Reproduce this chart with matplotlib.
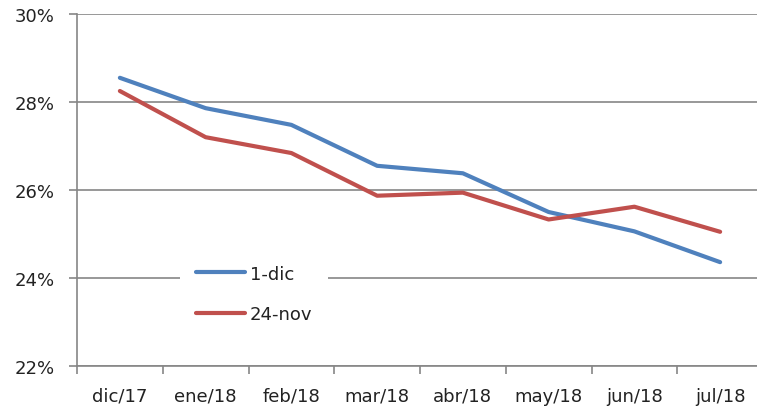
import matplotlib.pyplot as plt
import numpy as np

months = ["dic/17", "ene/18", "feb/18", "mar/18", "abr/18", "may/18", "jun/18", "jul/18"]
dic1 = [28.55, 27.86, 27.48, 26.55, 26.38, 25.50, 25.06, 24.36]
nov24 = [28.25, 27.20, 26.84, 25.87, 25.94, 25.33, 25.62, 25.05]

plt.rcParams["font.family"] = ["DejaVu Sans"]

fig = plt.figure(figsize=(7.57, 4.10), dpi=100)
ax = fig.add_axes([77 / 757, 1 - 367 / 410, 686 / 757, 352 / 410])

x = np.arange(len(months))
ax.plot(x, dic1, color="#4F81BD", lw=3, solid_capstyle="round", solid_joinstyle="round", label="1-dic")
ax.plot(x, nov24, color="#C0504D", lw=3, solid_capstyle="round", solid_joinstyle="round", label="24-nov")

ax.set_xlim(-0.5, len(months) - 0.5)
ax.set_ylim(22, 30)
ax.set_yticks([22, 24, 26, 28, 30])
ax.set_yticklabels(["22%", "24%", "26%", "28%", "30%"])
ax.set_xticks(x)
ax.set_xticklabels(months)
ax.set_xticks(np.arange(len(months)) - 0.5, minor=True)

ax.grid(axis="y", color="#868686", lw=1.2)
ax.set_axisbelow(True)
for s in ["top", "right"]:
    ax.spines[s].set_visible(False)
for s in ["left", "bottom"]:
    ax.spines[s].set_color("#868686")
    ax.spines[s].set_linewidth(1.2)

ax.tick_params(axis="x", which="major", length=0, pad=15, labelsize=13, colors="#222222")
ax.tick_params(axis="x", which="minor", length=6, color="#868686", width=1.2)
ax.tick_params(axis="y", length=6, color="#868686", width=1.2, pad=10, labelsize=13, labelcolor="#222222")

leg = ax.legend(loc="upper left", bbox_to_anchor=(0.137, 0.36), frameon=True, framealpha=1,
                edgecolor="none", fontsize=13, handlelength=2.7, handletextpad=0.25,
                labelspacing=1.25, borderpad=0.9)
for t in leg.get_texts():
    t.set_color("#222222")

fig.savefig("out.png", dpi=100)
